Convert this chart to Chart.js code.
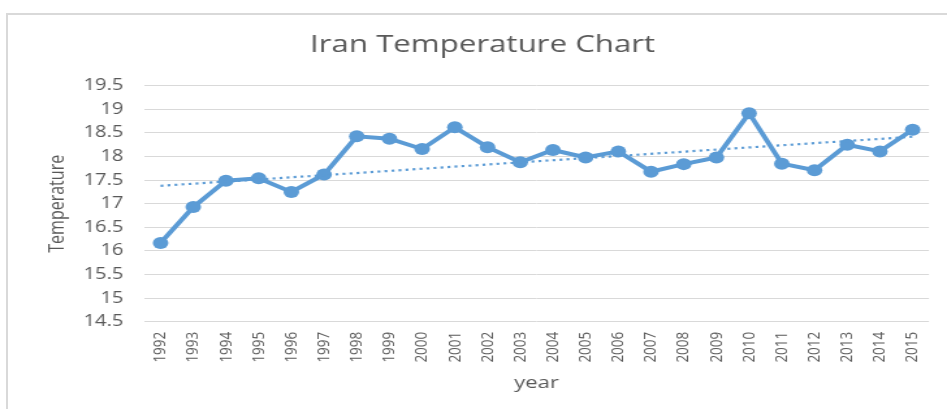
<!DOCTYPE html>
<html lang="en">
<head>
    <meta charset="UTF-8">
    <title>Iran Temperature Chart</title>
    <script src="https://cdn.jsdelivr.net/npm/chart.js"></script>
    <style>
        body {
            margin: 0;
            background: #ffffff;
            width: 947px;
            height: 409px;
            overflow: hidden;
            position: relative;
        }

        .frame {
            position: absolute;
            left: 6px;
            top: 13px;
            width: 1000px;
            height: 500px;
            border-left: 2px solid #d9d9d9;
            border-top: 2px solid #d9d9d9;
        }

        /* the source picture is stretched sideways, so the canvas is too */
        #myChart {
            position: absolute;
            left: 0;
            top: 0;
            transform: scaleX(1.3008);
            transform-origin: 0 0;
        }
    </style>
</head>
<body>
    <div class="frame"></div>
    <canvas id="myChart" width="728" height="409"></canvas>

    <script>
        const years = ['1992', '1993', '1994', '1995', '1996', '1997', '1998', '1999', '2000', '2001', '2002', '2003',
            '2004', '2005', '2006', '2007', '2008', '2009', '2010', '2011', '2012', '2013', '2014', '2015'];
        const temperatures = [16.17, 16.93, 17.49, 17.54, 17.25, 17.62, 18.43, 18.38, 18.16, 18.62, 18.20, 17.88,
            18.14, 17.98, 18.11, 17.68, 17.84, 17.98, 18.92, 17.85, 17.71, 18.25, 18.11, 18.57];
        // ends of the linear trend line
        const trendYears = ['1992', '2015'];
        const trendValues = [17.38, 18.42];

        const cor = '#5b9bd5';
        const cinza = '#595959';
        const fonte = "'Open Sans', sans-serif";

        const config = {
            type: 'line',
            data: {
                labels: years,
                datasets: [{
                    label: 'Temperature',
                    data: temperatures,
                    borderColor: cor,
                    backgroundColor: cor,
                    borderWidth: 4,
                    pointRadius: 6,
                    pointBorderWidth: 0,
                    pointBackgroundColor: cor,
                    tension: 0,
                    order: 1
                }, {
                    label: 'Trend',
                    data: trendYears.map((ano, i) => ({ x: ano, y: trendValues[i] })),
                    borderColor: cor,
                    borderWidth: 2.2,
                    borderDash: [2.2, 3.2],
                    pointRadius: 0,
                    fill: false,
                    order: 0
                }]
            },
            options: {
                responsive: false,
                animation: false,
                layout: {
                    padding: { left: 25, right: 11, top: 0, bottom: 0 }
                },
                plugins: {
                    legend: { display: false },
                    tooltip: { enabled: false },
                    title: {
                        display: true,
                        text: 'Iran Temperature Chart',
                        color: cinza,
                        font: { family: fonte, size: 24, weight: 'normal' },
                        padding: { top: 31, bottom: 26 }
                    }
                },
                scales: {
                    x: {
                        offset: true,
                        grid: { display: false, drawTicks: false },
                        border: { display: false },
                        ticks: {
                            color: cinza,
                            font: { family: fonte, size: 13.5 },
                            minRotation: 90,
                            maxRotation: 90,
                            padding: 10,
                            autoSkip: false
                        },
                        title: {
                            display: true,
                            text: 'year',
                            color: cinza,
                            font: { family: fonte, size: 17 },
                            padding: { top: 0, bottom: 16 }
                        }
                    },
                    y: {
                        min: 14.5,
                        max: 19.5,
                        grid: { color: '#d9d9d9', lineWidth: 1, drawTicks: false },
                        border: { display: false },
                        ticks: {
                            stepSize: 0.5,
                            color: cinza,
                            font: { family: fonte, size: 15.5 },
                            padding: 16,
                            callback: (valor) => String(valor)
                        },
                        title: {
                            display: true,
                            text: 'Temperature',
                            color: cinza,
                            font: { family: fonte, size: 16 },
                            padding: { top: 10, bottom: -6 }
                        }
                    }
                }
            }
        };

        const myChart = new Chart(document.getElementById('myChart'), config);
    </script>
</body>
</html>
